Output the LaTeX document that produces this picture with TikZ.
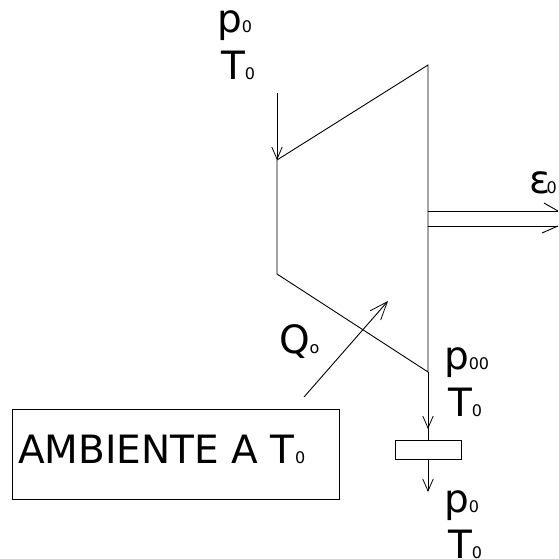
\documentclass[tikz,border=0pt]{standalone}
\usepackage{fontspec}
\setmainfont{DejaVu Sans}
\usetikzlibrary{arrows.meta}
\newcommand{\lowtxt}[1]{{\fontsize{16}{16}\selectfont #1}}
\tikzset{
  x=1pt,y=-1pt,
  line/.style={draw=black,line width=0.9pt},
  flow/.style={line,-{Straight Barb[length=12pt,width=10.5pt,line width=0.8pt]}},
  heat/.style={line,-{Straight Barb[length=18pt,width=14pt,line width=0.8pt]}},
  lab/.style={anchor=base west,inner sep=0pt,outer sep=0pt,font=\fontsize{39}{39}\selectfont},
  blank/.style={line,fill=white,minimum width=0pt,inner sep=0pt},
}
\begin{document}
\begin{tikzpicture}
\useasboundingbox (0,0) rectangle (558,559);
% turbine
\coordinate (tl) at (277,160);
\coordinate (tr) at (428,65);
\coordinate (br) at (428,372);
\coordinate (bl) at (277,274);
\draw[line] (tl) -- (tr) -- (br) -- (bl) -- cycle;
% inlet
\coordinate (in) at (277,93);
\draw[flow] (in) -- (tl);
% outlet with the valve
\node[blank,minimum width=66pt,minimum height=19pt] (valve) at (428,449.5) {};
\draw[line] (br) -- (valve.north);
\coordinate (mid) at (428,429);
\draw[flow] (br) -- (mid);
\coordinate (out) at (428,492);
\draw[flow] (valve.south) -- (out);
% work output
\coordinate (wa) at (428,211);
\coordinate (wb) at (558,211);
\coordinate (wc) at (428,226);
\coordinate (wd) at (558,226);
\coordinate (ba) at (544,203);
\coordinate (bb) at (542,233);
\draw[line] (wa) -- (wb);
\draw[line] (wc) -- (wd);
\draw[line] (ba) -- (wb);
\draw[line] (bb) -- (wd);
% ambient
\node[blank,minimum width=327pt,minimum height=90pt] (amb) at (175.5,454) {};
\coordinate (qs) at (304,397);
\coordinate (qe) at (388,301);
\draw[heat] (qs) -- (qe);
% labels
\node[lab] (p0a) at (217,33) {p\lowtxt{0}};
\node[lab] (T0a) at (221,80) {T\lowtxt{0}};
\node[lab] (eps) at (529,193) {ε\kern-3.5pt\lowtxt{0}};
\node[lab] (Q) at (279,353) {Q\lowtxt{o}};
\node[lab] (p00) at (444,369) {p\lowtxt{00}};
\node[lab] (T0b) at (448,416) {T\lowtxt{0}};
\node[lab] (p0c) at (444,512) {p\lowtxt{0}};
\node[lab] (T0c) at (448,558) {T\lowtxt{0}};
\node[lab] (ambt) at (18,463) {AMBIENTE A T\kern1pt\lowtxt{0}};
\end{tikzpicture}
\end{document}
